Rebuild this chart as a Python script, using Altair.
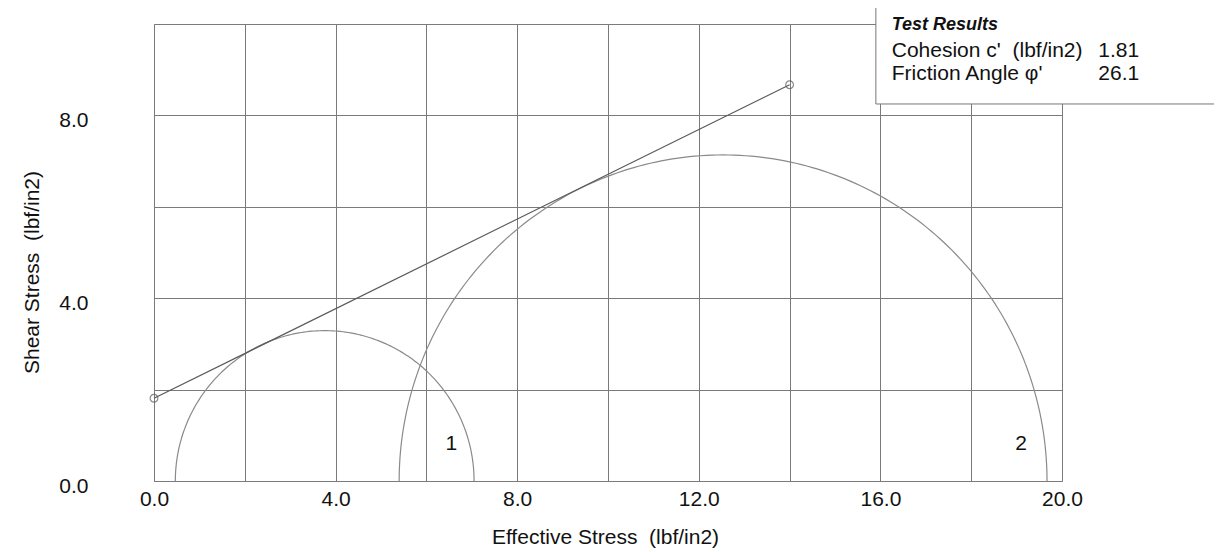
import altair as alt
import numpy as np
import pandas as pd

# Mohr circles (effective principal stresses, lbf/in2)
circle_ids = ["1", "2"]
sigma3 = [0.47, 5.40]
sigma1 = [7.05, 19.67]
label_x = [6.55, 19.1]
label_y = [0.82, 0.82]

# Failure envelope
env_x = [0.0, 14.0]
env_y = [1.81, 8.67]

# Test results box
box_lines = ["Cohesion c'\u00a0\u00a0(lbf/in2)", "Friction Angle \u03c6'"]
box_values = ["1.81", "26.1"]

GRID = "#7a7a7a"
FONT = "Liberation Sans"

rows = []
for cid, s3, s1 in zip(circle_ids, sigma3, sigma1):
    c = (s1 + s3) / 2
    r = (s1 - s3) / 2
    for i, t in enumerate(np.linspace(np.pi, 0, 181)):
        rows.append({"id": cid, "i": i, "x": c + r * np.cos(t), "y": r * np.sin(t)})
circles_df = pd.DataFrame(rows)
labels_df = pd.DataFrame({"x": label_x, "y": label_y, "t": circle_ids})
env_df = pd.DataFrame({"x": env_x, "y": env_y})

xs = alt.Scale(domain=[0, 20], nice=False, zero=False)
ys = alt.Scale(domain=[0, 10], nice=False, zero=False)

x_axis = alt.Axis(
    values=list(range(0, 21, 2)),
    labelExpr="datum.value % 4 == 0 ? format(datum.value, '.1f') : ''",
    ticks=False, grid=True, gridColor=GRID, gridOpacity=1, domainColor=GRID,
    labelFontSize=21, labelFont=FONT, labelColor="#111", labelPadding=7,
    labelFlush=False, labelOverlap=False,
    title="Effective Stress\u00a0\u00a0(lbf/in2)", titleFont=FONT, titleFontSize=21,
    titleFontWeight="normal", titleColor="#111",
    titleX=451, titleY=62, titleBaseline="alphabetic", titleAlign="center",
)
y_axis = alt.Axis(
    values=list(range(0, 11, 2)),
    labelExpr="datum.value % 4 == 0 ? format(datum.value, '.1f') : ''",
    ticks=False, grid=True, gridColor=GRID, gridOpacity=1, domainColor=GRID,
    labelFontSize=21, labelFont=FONT, labelColor="#111", labelPadding=66,
    labelOffset=5, labelBaseline="middle", labelFlush=False, labelOverlap=False,
    title="Shear Stress\u00a0\u00a0(lbf/in2)", titleFont=FONT, titleFontSize=21,
    titleFontWeight="normal", titleColor="#111",
    titleX=-122, titleY=248, titleBaseline="middle", titleAlign="center",
)

circles = alt.Chart(circles_df).mark_line(color="#8a8a8a", strokeWidth=1.2).encode(
    x=alt.X("x:Q", scale=xs, axis=x_axis),
    y=alt.Y("y:Q", scale=ys, axis=y_axis),
    detail="id:N",
    order="i:Q",
)

env_line = alt.Chart(env_df).mark_line(color="#5a5a5a", strokeWidth=1.2).encode(
    x=alt.X("x:Q", scale=xs), y=alt.Y("y:Q", scale=ys)
)
env_pts = alt.Chart(env_df).mark_point(
    shape="circle", filled=False, color="#5a5a5a", size=60, strokeWidth=1.2
).encode(x=alt.X("x:Q", scale=xs), y=alt.Y("y:Q", scale=ys))

labels = alt.Chart(labels_df).mark_text(
    font=FONT, fontSize=21, color="#111", align="center", baseline="middle"
).encode(x=alt.X("x:Q", scale=xs), y=alt.Y("y:Q", scale=ys), text="t:N")

# results box (in data coordinates, extends beyond the plot)
box_df = pd.DataFrame({"x": [15.90], "x2": [23.70], "y": [10.42], "y2": [8.25]})
box = alt.Chart(box_df).mark_rect(fill="white", stroke="#777", strokeWidth=1).encode(
    x=alt.X("x:Q", scale=xs), x2="x2:Q", y=alt.Y("y:Q", scale=ys), y2="y2:Q"
)
head_df = pd.DataFrame({"x": [16.25], "y": [9.86], "t": ["Test Results"]})
head = alt.Chart(head_df).mark_text(
    font=FONT, fontSize=18, fontWeight="bold", fontStyle="italic", color="#111",
    align="left", baseline="alphabetic"
).encode(x=alt.X("x:Q", scale=xs), y=alt.Y("y:Q", scale=ys), text="t:N")
rows_df = pd.DataFrame({"x": [16.25, 16.25], "y": [9.28, 8.78], "t": box_lines})
rows_txt = alt.Chart(rows_df).mark_text(
    font=FONT, fontSize=21, color="#111", align="left", baseline="alphabetic"
).encode(x=alt.X("x:Q", scale=xs), y=alt.Y("y:Q", scale=ys), text="t:N")
vals_df = pd.DataFrame({"x": [20.80, 20.80], "y": [9.28, 8.78], "t": box_values})
vals_txt = alt.Chart(vals_df).mark_text(
    font=FONT, fontSize=21, color="#111", align="left", baseline="alphabetic"
).encode(x=alt.X("x:Q", scale=xs), y=alt.Y("y:Q", scale=ys), text="t:N")

chart = alt.layer(
    circles, env_line, env_pts, labels, box, head, rows_txt, vals_txt
).properties(
    width=908, height=457,
    autosize=alt.AutoSizeParams(type="none"),
    padding={"left": 146, "top": 16, "right": 152, "bottom": 70},
).configure_view(stroke=GRID, strokeWidth=1).configure(background="white")

chart.save("out.html", embed_options={"renderer": "svg", "actions": False})
